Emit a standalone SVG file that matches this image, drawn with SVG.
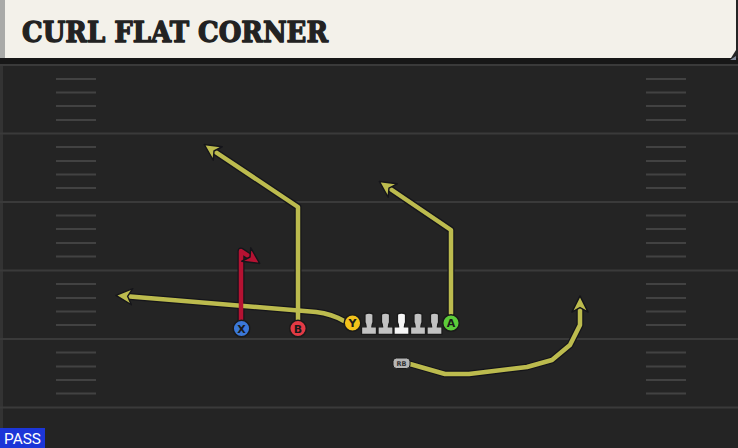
<svg xmlns="http://www.w3.org/2000/svg" width="738" height="448" viewBox="0 0 738 448">
<style>
.yl{stroke:#3a3a3a;stroke-width:2}
.hm{stroke:#424242;stroke-width:2}
.rt{fill:none;stroke-linejoin:round;stroke-linecap:round}
.rto{stroke:#15151a;stroke-width:7}
.rty{stroke:#bcbb4e;stroke-width:4.5}
.rtr{stroke:#b51232;stroke-width:4.5}
.pl{stroke:#1a1a1a;stroke-width:1.5}
.plt{font-family:"DejaVu Sans","Liberation Sans",sans-serif;font-weight:bold;font-size:11px;fill:#1a1a1a;text-anchor:middle}
.ol{fill:#c2c2c2;stroke:#1a1a1a;stroke-width:1.1}
</style>
<defs>
<marker id="ay" viewBox="0 0 10 10" refX="5" refY="5" markerWidth="4" markerHeight="4" orient="auto" markerUnits="strokeWidth">
<path d="M0.5,0.5 L9.5,5 L0.5,9.5 L3,5 Z" fill="#bcbb4e" stroke="#15151a" stroke-width="0.8" stroke-linejoin="round"/>
</marker>
<marker id="ar" viewBox="0 0 10 10" refX="5" refY="5" markerWidth="4" markerHeight="4" orient="auto" markerUnits="strokeWidth">
<path d="M0.5,0.5 L9.5,5 L0.5,9.5 L3,5 Z" fill="#b51232" stroke="#15151a" stroke-width="0.8" stroke-linejoin="round"/>
</marker>
<path id="ol" d="M-3.5,-9 Q0,-11 3.5,-9 L3.5,-2 Q2.5,0 2.5,2 L6,2 Q6.5,2 6.5,3 L6.5,8.5 L-6.5,8.5 L-6.5,3 Q-6.5,2 -6,2 L-2.5,2 Q-2.5,0 -3.5,-2 Z"/>
</defs>

<g id="field">
<rect x="0" y="0" width="738" height="448" fill="#242424"/>
<rect x="0" y="60" width="3" height="388" fill="#333"/>
<g id="yardlines">
<line class="yl" x1="0" y1="65" x2="738" y2="65"/>
<line class="yl" x1="0" y1="133.5" x2="738" y2="133.5"/>
<line class="yl" x1="0" y1="202" x2="738" y2="202"/>
<line class="yl" x1="0" y1="270.5" x2="738" y2="270.5"/>
<line class="yl" x1="0" y1="339" x2="738" y2="339"/>
<line class="yl" x1="0" y1="407.5" x2="738" y2="407.5"/>
</g>
<g id="hashes">
<path class="hm" d="M56,79H96M56,92.5H96M56,106H96M56,120H96M56,147H96M56,161H96M56,174.5H96M56,188H96M56,215.5H96M56,229H96M56,243H96M56,256.5H96M56,284H96M56,298H96M56,311.5H96M56,325H96M56,352.5H96M56,366.5H96M56,380H96M56,393.5H96"/>
<path class="hm" d="M646,79H686M646,92.5H686M646,106H686M646,120H686M646,147H686M646,161H686M646,174.5H686M646,188H686M646,215.5H686M646,229H686M646,243H686M646,256.5H686M646,284H686M646,298H686M646,311.5H686M646,325H686M646,352.5H686M646,366.5H686M646,380H686M646,393.5H686"/>
</g>
</g>

<g id="header">
<rect x="0" y="58" width="738" height="6" fill="#171717"/>
<path d="M736,56 L736,60 L730,60 Z" fill="#7d8796"/>
<path d="M0,0 H736 V50 L731,58 H0 Z" fill="#f3f1ea"/>
<rect x="0" y="0" width="5" height="58" fill="#a9aaa8"/>
<text x="22" y="42" font-family="'DejaVu Serif','Liberation Serif',serif" font-weight="bold" font-size="27.5" fill="#222" stroke="#222" stroke-width="1.3" stroke-linejoin="round" textLength="306" lengthAdjust="spacingAndGlyphs">CURL FLAT CORNER</text>
</g>

<g id="connectors">
<g class="rt rto">
<path d="M298,320 V207 L211,149"/>
<path d="M451,314 V230 L386,186"/>
<path d="M344,321 Q332,314 316,312 L124,296"/>
<path d="M410,364 L445,374 L469,374 L527,367 L552,360 L570,345 L580,325 L580,304"/>
<path d="M241,320 V251 L253,259"/>
</g>
<path class="rt rty" d="M298,320 V207 L211,149" marker-end="url(#ay)"/>
<path class="rt rty" d="M451,314 V230 L386,186" marker-end="url(#ay)"/>
<path class="rt rty" d="M344,321 Q332,314 316,312 L124,296" marker-end="url(#ay)"/>
<path class="rt rty" d="M410,364 L445,374 L469,374 L527,367 L552,360 L570,345 L580,325 L580,304" marker-end="url(#ay)"/>
<path class="rt rtr" d="M241,320 V251 L253,259" marker-end="url(#ar)"/>
</g>

<g id="X"><circle class="pl" cx="241.5" cy="328.5" r="8.3" fill="#3b78d8"/><text class="plt" x="241.5" y="332.5">X</text></g>
<g id="B"><circle class="pl" cx="298" cy="328.5" r="8.3" fill="#e33a45"/><text class="plt" x="298" y="332.5">B</text></g>
<g id="Y"><circle class="pl" cx="352.5" cy="323" r="8.3" fill="#f2c21b"/><text class="plt" x="352.5" y="327">Y</text></g>
<g id="A"><circle class="pl" cx="451" cy="323" r="8.3" fill="#5ccc3a"/><text class="plt" x="451" y="327">A</text></g>
<g id="LT" transform="translate(369,324.5) scale(1.15)"><use href="#ol" class="ol"/></g>
<g id="LG" transform="translate(385.5,324.5) scale(1.15)"><use href="#ol" class="ol"/></g>
<g id="C" transform="translate(401.5,324.5) scale(1.15)"><use href="#ol" fill="#f6f6f6" stroke="#1a1a1a" stroke-width="1.1"/></g>
<g id="RG" transform="translate(418,324.5) scale(1.15)"><use href="#ol" class="ol"/></g>
<g id="RT" transform="translate(434.5,324.5) scale(1.15)"><use href="#ol" class="ol"/></g>
<g id="RB"><rect x="393" y="358" width="17" height="10.5" rx="3.5" fill="#b5b5b5" stroke="#1a1a1a" stroke-width="1"/><text x="401.5" y="366" font-family="'DejaVu Sans',sans-serif" font-size="6.5" font-weight="bold" fill="#333" text-anchor="middle">RB</text></g>

<g id="pass"><rect x="0" y="428" width="45" height="20" fill="#1c36d8"/><text x="22.5" y="444" font-family="'Roboto','Liberation Sans',sans-serif" font-size="15" fill="#fff" text-anchor="middle" textLength="37" lengthAdjust="spacingAndGlyphs">PASS</text></g>
</svg>
